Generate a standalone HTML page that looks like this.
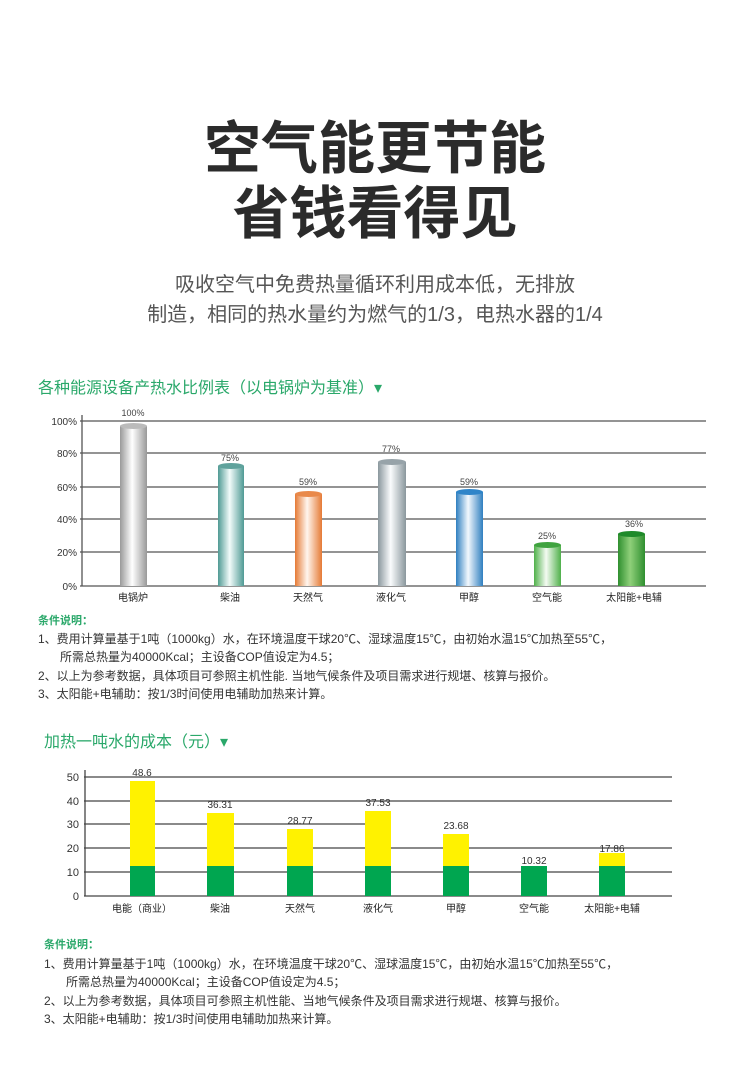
<!DOCTYPE html>
<html><head><meta charset="utf-8">
<style>
body{margin:0;background:#fff;}
#p{position:relative;width:750px;height:1087px;overflow:hidden;font-family:"Liberation Sans","Noto Sans CJK SC",sans-serif;color:#333;}
.a{position:absolute;white-space:nowrap;}
.t{left:0;width:750px;text-align:center;font-weight:bold;font-size:57px;color:#2b2b2b;}
.s{left:0;width:750px;text-align:center;font-size:20px;color:#555;}
.h{font-size:16px;color:#2aa86a;}
.c{font-size:12px;color:#333;}
.cg{font-size:11px;color:#2aa86a;font-weight:bold;}
</style></head><body><div id="p">
<div class="a t" style="top:103px;">空气能更节能</div>
<div class="a t" style="top:168px;">省钱看得见</div>
<div class="a s" style="top:268px;">吸收空气中免费热量循环利用成本低，无排放</div>
<div class="a s" style="top:298px;">制造，相同的热水量约为燃气的1/3，电热水器的1/4</div>

<div class="a h" style="left:38px;top:374px;">各种能源设备产热水比例表（以电锅炉为基准）▾</div>
<svg class="a" style="left:0;top:400px" width="750" height="210" font-family="Liberation Sans,Noto Sans CJK SC,sans-serif">
<defs>
<linearGradient id="g1" x1="0" x2="1"><stop offset="0" stop-color="#999"/><stop offset=".45" stop-color="#fff"/><stop offset="1" stop-color="#999"/></linearGradient>
<linearGradient id="g2" x1="0" x2="1"><stop offset="0" stop-color="#4f9a94"/><stop offset=".45" stop-color="#f2fbfa"/><stop offset="1" stop-color="#4f9a94"/></linearGradient>
<linearGradient id="g3" x1="0" x2="1"><stop offset="0" stop-color="#e57a35"/><stop offset=".45" stop-color="#fff6ee"/><stop offset="1" stop-color="#e57a35"/></linearGradient>
<linearGradient id="g4" x1="0" x2="1"><stop offset="0" stop-color="#8a979d"/><stop offset=".45" stop-color="#fafcfd"/><stop offset="1" stop-color="#8a979d"/></linearGradient>
<linearGradient id="g5" x1="0" x2="1"><stop offset="0" stop-color="#2f7fc0"/><stop offset=".45" stop-color="#f2f8fd"/><stop offset="1" stop-color="#2f7fc0"/></linearGradient>
<linearGradient id="g6" x1="0" x2="1"><stop offset="0" stop-color="#4fb04a"/><stop offset=".45" stop-color="#f4fbf2"/><stop offset="1" stop-color="#4fb04a"/></linearGradient>
<linearGradient id="g7" x1="0" x2="1"><stop offset="0" stop-color="#2f8f2f"/><stop offset=".45" stop-color="#8fd07a"/><stop offset="1" stop-color="#2f8f2f"/></linearGradient>
</defs>
<g stroke="#555" stroke-width="1.3">
<line x1="80" y1="21" x2="706" y2="21"/><line x1="80" y1="53" x2="706" y2="53"/><line x1="80" y1="87" x2="706" y2="87"/><line x1="80" y1="119" x2="706" y2="119"/><line x1="80" y1="152" x2="706" y2="152"/><line x1="80" y1="186" x2="706" y2="186"/>
<line x1="82" y1="15" x2="82" y2="186"/>
</g>
<g font-size="10" fill="#333" text-anchor="end">
<text x="77" y="25">100%</text><text x="77" y="57">80%</text><text x="77" y="91">60%</text><text x="77" y="123">40%</text><text x="77" y="156">20%</text><text x="77" y="190">0%</text>
</g>
<g>
<rect x="120" y="26" width="27" height="160" fill="url(#g1)"/><ellipse cx="133.5" cy="26" rx="13.5" ry="3" fill="#bbb"/>
<rect x="218" y="66" width="26" height="120" fill="url(#g2)"/><ellipse cx="231" cy="66" rx="13" ry="3" fill="#5fa29c"/>
<rect x="295" y="94" width="27" height="92" fill="url(#g3)"/><ellipse cx="308.5" cy="94" rx="13.5" ry="3" fill="#e9894a"/>
<rect x="378" y="62" width="28" height="124" fill="url(#g4)"/><ellipse cx="392" cy="62" rx="14" ry="3" fill="#97a3a9"/>
<rect x="456" y="92" width="27" height="94" fill="url(#g5)"/><ellipse cx="469.5" cy="92" rx="13.5" ry="3" fill="#2f85c9"/>
<rect x="534" y="145" width="27" height="41" fill="url(#g6)"/><ellipse cx="547.5" cy="145" rx="13.5" ry="3" fill="#3fa33f"/>
<rect x="618" y="134" width="27" height="52" fill="url(#g7)"/><ellipse cx="631.5" cy="134" rx="13.5" ry="3" fill="#1f8a2a"/>
</g>
<g font-size="9" fill="#444" text-anchor="middle">
<text x="133" y="16">100%</text><text x="230" y="61">75%</text><text x="308" y="85">59%</text><text x="391" y="52">77%</text><text x="469" y="85">59%</text><text x="547" y="139">25%</text><text x="634" y="127">36%</text>
</g>
<g font-size="10" fill="#222" text-anchor="middle">
<text x="133" y="201">电锅炉</text><text x="230" y="201">柴油</text><text x="308" y="201">天然气</text><text x="391" y="201">液化气</text><text x="469" y="201">甲醇</text><text x="547" y="201">空气能</text><text x="634" y="201">太阳能+电辅</text>
</g>
</svg>

<div class="a cg" style="left:38px;top:612px;">条件说明：</div>
<div class="a c" style="left:38px;top:630px;">1、费用计算量基于1吨（1000kg）水，在环境温度干球20℃、湿球温度15℃，由初始水温15℃加热至55℃，</div>
<div class="a c" style="left:60px;top:648px;">所需总热量为40000Kcal；主设备COP值设定为4.5；</div>
<div class="a c" style="left:38px;top:667px;">2、以上为参考数据，具体项目可参照主机性能. 当地气候条件及项目需求进行规堪、核算与报价。</div>
<div class="a c" style="left:38px;top:685px;">3、太阳能+电辅助：按1/3时间使用电辅助加热来计算。</div>

<div class="a h" style="left:44px;top:728px;">加热一吨水的成本（元）▾</div>
<svg class="a" style="left:0;top:760px" width="750" height="160" font-family="Liberation Sans,Noto Sans CJK SC,sans-serif">
<g stroke="#444" stroke-width="1.3">
<line x1="84" y1="17" x2="672" y2="17"/><line x1="84" y1="41" x2="672" y2="41"/><line x1="84" y1="64" x2="365" y2="64"/><line x1="84" y1="88" x2="672" y2="88"/><line x1="84" y1="112" x2="672" y2="112"/><line x1="84" y1="136" x2="672" y2="136"/>
<line x1="85" y1="10" x2="85" y2="136"/>
</g>
<g font-size="11" fill="#333" text-anchor="end">
<text x="79" y="21">50</text><text x="79" y="45">40</text><text x="79" y="68">30</text><text x="79" y="92">20</text><text x="79" y="116">10</text><text x="79" y="140">0</text>
</g>
<g fill="#fff200">
<rect x="130" y="21" width="25" height="86"/><rect x="207" y="53" width="27" height="54"/><rect x="287" y="69" width="26" height="38"/><rect x="365" y="51" width="26" height="56"/><rect x="443" y="74" width="26" height="33"/><rect x="599" y="93" width="26" height="14"/>
</g>
<g fill="#00a650">
<rect x="130" y="106" width="25" height="30"/><rect x="207" y="106" width="27" height="30"/><rect x="287" y="106" width="26" height="30"/><rect x="365" y="106" width="26" height="30"/><rect x="443" y="106" width="26" height="30"/><rect x="521" y="106" width="26" height="30"/><rect x="599" y="106" width="26" height="30"/>
</g>
<g font-size="10" fill="#333" text-anchor="middle">
<text x="142" y="16">48.6</text><text x="220" y="48">36.31</text><text x="300" y="64">28.77</text><text x="378" y="46">37.53</text><text x="456" y="69">23.68</text><text x="534" y="104">10.32</text><text x="612" y="92">17.86</text>
</g>
<g font-size="10" fill="#222" text-anchor="middle">
<text x="142" y="152">电能（商业）</text><text x="220" y="152">柴油</text><text x="300" y="152">天然气</text><text x="378" y="152">液化气</text><text x="456" y="152">甲醇</text><text x="534" y="152">空气能</text><text x="612" y="152">太阳能+电辅</text>
</g>
</svg>

<div class="a cg" style="left:44px;top:936px;">条件说明：</div>
<div class="a c" style="left:44px;top:955px;">1、费用计算量基于1吨（1000kg）水，在环境温度干球20℃、湿球温度15℃，由初始水温15℃加热至55℃，</div>
<div class="a c" style="left:66px;top:973px;">所需总热量为40000Kcal；主设备COP值设定为4.5；</div>
<div class="a c" style="left:44px;top:992px;">2、以上为参考数据，具体项目可参照主机性能、当地气候条件及项目需求进行规堪、核算与报价。</div>
<div class="a c" style="left:44px;top:1010px;">3、太阳能+电辅助：按1/3时间使用电辅助加热来计算。</div>
</div></body></html>
